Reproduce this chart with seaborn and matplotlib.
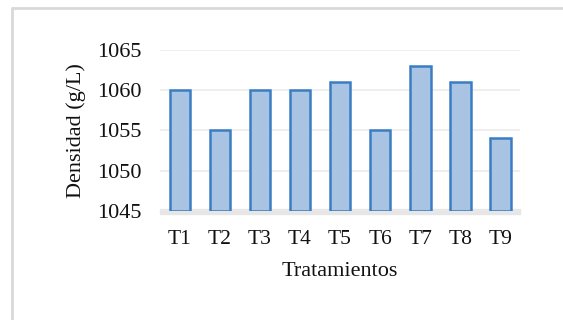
import numpy as np
import pandas as pd
import seaborn as sns
import matplotlib.pyplot as plt
from matplotlib.lines import Line2D

tratamientos = ["T1", "T2", "T3", "T4", "T5", "T6", "T7", "T8", "T9"]
densidad = [1060, 1055, 1060, 1060, 1061, 1055, 1063, 1061, 1054]
y_ticks = [1045, 1050, 1055, 1060, 1065]

df = pd.DataFrame({"Tratamientos": tratamientos, "Densidad": densidad})

sns.set_style("white")
plt.rcParams['font.family'] = ['Liberation Serif', 'DejaVu Serif']

fig = plt.figure(figsize=(5.63, 3.2), dpi=100)
ax = fig.add_axes([0.284, 0.341, 0.64, 0.503])

sns.barplot(data=df, x="Tratamientos", y="Densidad", ax=ax, width=0.52,
            color="#9fc4ec", edgecolor="#3b7dc4", linewidth=1.8)
# bars start at the axis floor
for p, v in zip(ax.patches, densidad):
    p.set_y(y_ticks[0])
    p.set_height(v - y_ticks[0])

ax.set_ylim(y_ticks[0], y_ticks[-1])
ax.set_yticks(y_ticks)
ax.set_xlim(-0.5, len(tratamientos) - 0.5)
ax.yaxis.grid(True, color="#ebebeb", linewidth=1.2)
ax.set_axisbelow(True)
for s in ax.spines.values():
    s.set_visible(False)
ax.axhspan(y_ticks[0] - 0.4, y_ticks[0] + 0.2, color="#e6e6e6", zorder=0, clip_on=False)

ax.tick_params(axis="y", length=0, labelsize=16, colors="#111111", pad=13)
ax.tick_params(axis="x", length=0, labelsize=15.5, colors="#111111", pad=14)
ax.set_xlabel("Tratamientos", fontsize=16, labelpad=9, color="#111111")
ax.set_ylabel("Densidad (g/L)", fontsize=16, labelpad=8, color="#111111")

fig.add_artist(Line2D([12 / 563, 1], [1 - 8 / 320, 1 - 8 / 320],
                      transform=fig.transFigure, color="#d9d9d9", linewidth=2))
fig.add_artist(Line2D([12 / 563, 12 / 563], [0, 1 - 8 / 320],
                      transform=fig.transFigure, color="#d9d9d9", linewidth=2))

fig.savefig("out.png", dpi=100)
